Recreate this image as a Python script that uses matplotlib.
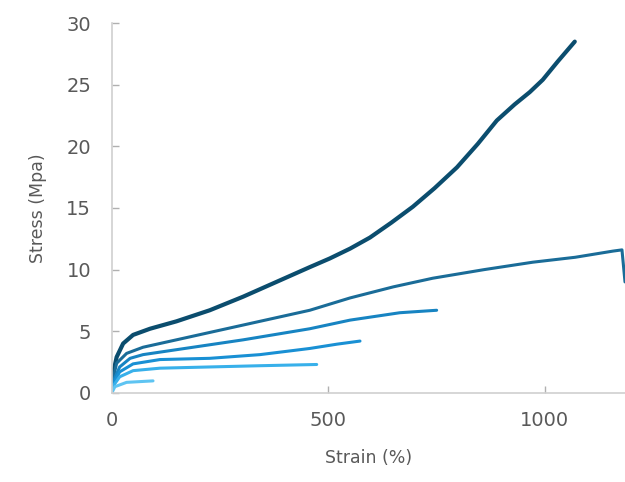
import matplotlib
matplotlib.use('Agg')
import matplotlib.pyplot as plt

# stress-strain curves (strain %, stress MPa)
strain_1 = [0, 3, 11, 26, 49, 88, 149, 226, 303, 380, 457, 503, 550, 596,
            645, 695, 745, 797, 845, 889, 930, 965, 995, 1030, 1069]
stress_1 = [0.5, 1.6, 2.9, 4.0, 4.7, 5.2, 5.8, 6.7, 7.8, 9.0, 10.2, 10.9, 11.7, 12.6,
            13.8, 15.1, 16.6, 18.3, 20.2, 22.1, 23.4, 24.4, 25.4, 26.9, 28.5]

strain_2 = [0, 3, 11, 34, 72, 149, 303, 457, 550, 650, 741, 860, 972, 1070, 1157, 1178, 1185]
stress_2 = [0.3, 1.2, 2.4, 3.2, 3.7, 4.3, 5.5, 6.7, 7.7, 8.6, 9.3, 10.0, 10.6, 11.0, 11.5, 11.6, 9.0]

strain_3 = [0, 4, 18, 42, 72, 149, 303, 457, 550, 665, 750]
stress_3 = [0.2, 1.0, 2.1, 2.8, 3.1, 3.5, 4.3, 5.2, 5.9, 6.5, 6.7]

strain_4 = [0, 4, 18, 49, 111, 226, 342, 457, 520, 573]
stress_4 = [0.1, 0.8, 1.7, 2.35, 2.7, 2.8, 3.1, 3.6, 3.95, 4.2]

strain_5 = [0, 4, 18, 49, 111, 226, 342, 473]
stress_5 = [0.0, 0.6, 1.3, 1.8, 2.0, 2.1, 2.2, 2.3]

strain_6 = [0, 7, 34, 95]
stress_6 = [0.0, 0.5, 0.85, 0.97]

curves = [(strain_1, stress_1), (strain_2, stress_2), (strain_3, stress_3),
          (strain_4, stress_4), (strain_5, stress_5), (strain_6, stress_6)]
colors = ['#0b4d6e', '#1a6c98', '#1784c2', '#1990d4', '#38b0ea', '#5ec4f2']
widths = [3.0, 2.2, 2.2, 2.2, 2.2, 2.2]

txt = '#595959'
fig = plt.figure(figsize=(6.25, 4.82), dpi=100)
ax = fig.add_axes([0.179, 0.185, 0.821, 0.767])

for (x, y), c, w in zip(curves, colors, widths):
    ax.plot(x, y, color=c, linewidth=w, solid_capstyle='round',
            solid_joinstyle='round')

ax.set_xlim(0, 1185)
ax.set_ylim(0, 30)
ax.set_xticks([0, 500, 1000])
ax.set_yticks([0, 5, 10, 15, 20, 25, 30])

for s in ['top', 'right']:
    ax.spines[s].set_visible(False)
for s in ['left', 'bottom']:
    ax.spines[s].set_color('#d0d0d0')
    ax.spines[s].set_linewidth(1.2)

ax.tick_params(axis='both', direction='in', length=5, width=1, color='#b0b0b0',
               labelsize=14, labelcolor=txt)
ax.tick_params(axis='y', pad=15)
ax.tick_params(axis='x', pad=13)

ax.set_xlabel('Strain (%)', fontsize=12.5, color=txt, labelpad=14)
ax.set_ylabel('Stress (Mpa)', fontsize=12.5, color=txt, labelpad=14)

plt.savefig('out.png', dpi=100)
